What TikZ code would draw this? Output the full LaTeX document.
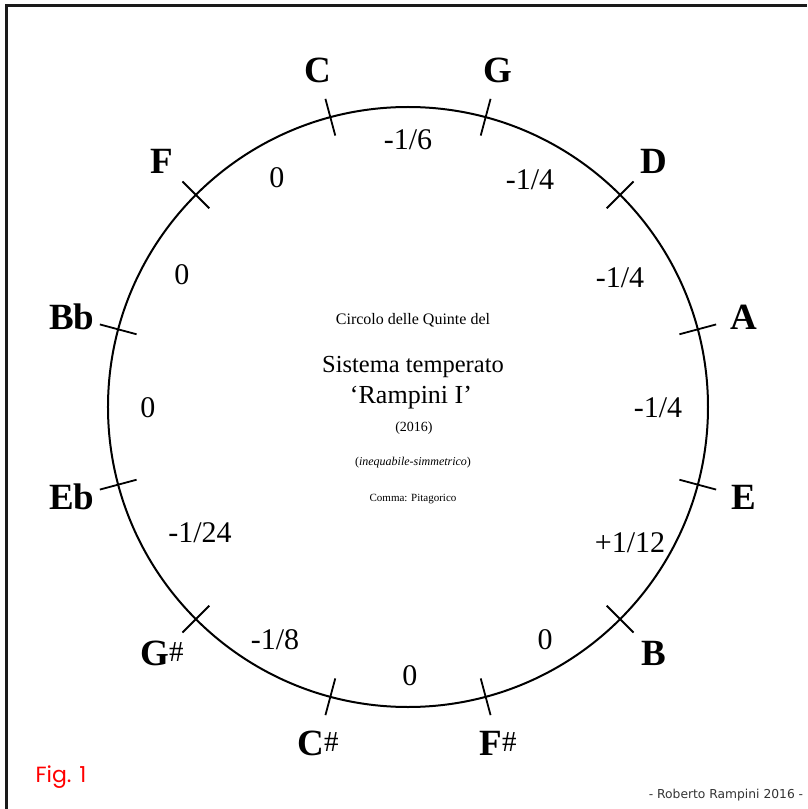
\documentclass[tikz,border=0pt]{standalone}
\usepackage{fontspec}
\setmainfont{Liberation Serif}
\newfontfamily\figfont{Poppins}
\newfontfamily\signfont{DejaVu Sans}
\usetikzlibrary{positioning}
\definecolor{ink}{HTML}{000000}
\definecolor{edge}{HTML}{1A1A1A}
\definecolor{figred}{HTML}{FF0000}
\tikzset{
  ring/.style={draw=ink,line width=2pt},
  tickmark/.style={draw=ink,line width=1.8pt},
  frame/.style={draw=edge,line width=3pt},
  note/.style={font=\fontsize{37}{37}\selectfont\bfseries,text=ink,inner sep=0pt},
  val/.style={font=\fontsize{30}{30}\selectfont,text=ink,inner sep=0pt},
  ctr/.style={align=center,text=ink,inner sep=0pt},
}
\newcommand{\shp}{\raisebox{4pt}{\fontsize{29}{29}\selectfont\mdseries\#}}

\begin{document}
\begin{tikzpicture}[x=1pt,y=1pt]
  \useasboundingbox (-408,-402) rectangle (399,407);
  % ── frame ──
  \draw[frame] (-401,-402) |- (399,401);
  % ── circle and ticks ──
  \draw[ring] (0,0) circle (300);
  \foreach \a in {105,75,...,-225} \draw[tickmark] (\a:281) -- (\a:319);
  % ── note names ──
  \foreach \a/\n/\t in {105/C/C, 75/G/G, 45/D/D, 15/A/A, -15/E/E, -45/B/B,
      -75/Fs/F\shp, -105/Cs/C\shp, -135/Gs/G\shp, -165/Eb/Eb, 165/Bb/Bb, 135/F/F}
    \node[note] (n\n) at (\a:348) {\t};
  % ── tempering values ──
  \foreach \i/\x/\y/\v in {1/0/267/{-1/6}, 2/122/227/{-1/4}, 3/212/129/{-1/4},
      4/250/-1/{-1/4}, 5/222/-136/{+1/12}, 6/137/-233/0, 7/2/-269/0,
      8/-133/-233/{-1/8}, 9/-208/-126/{-1/24}, 10/-260/-1/0, 11/-226/132/0,
      12/-131/229/0}
    \node[val] (v\i) at (\x,\y) {\v};
  % ── title ──
  \node[ctr,font=\fontsize{16}{16}\selectfont] (t1) at (5,87) {Circolo delle Quinte del};
  \node[ctr,font=\fontsize{24.5}{24.5}\selectfont] (t2) at (5,40) {Sistema temperato};
  \node[ctr,font=\fontsize{26}{26}\selectfont] (t3) at (3,9) {`Rampini I'};
  \node[ctr,font=\fontsize{14}{14}\selectfont] (t4) at (6,-21) {(2016)};
  \node[ctr,font=\fontsize{12}{12}\selectfont] (t5) at (5,-56) {(\textit{inequabile-simmetrico})};
  \node[ctr,font=\fontsize{11}{11}\selectfont] (t6) at (5,-92) {Comma: Pitagorico};
  % ── captions ──
  \node[inner sep=0pt,text=figred,font=\figfont\fontsize{22}{22}\selectfont] (fig) at (-347,-370) {Fig. 1};
  \node[inner sep=0pt,text=ink!80,font=\signfont\fontsize{12.3}{12.3}\selectfont] (sign) at (318,-388) {- Roberto Rampini 2016 -};
\end{tikzpicture}
\end{document}
